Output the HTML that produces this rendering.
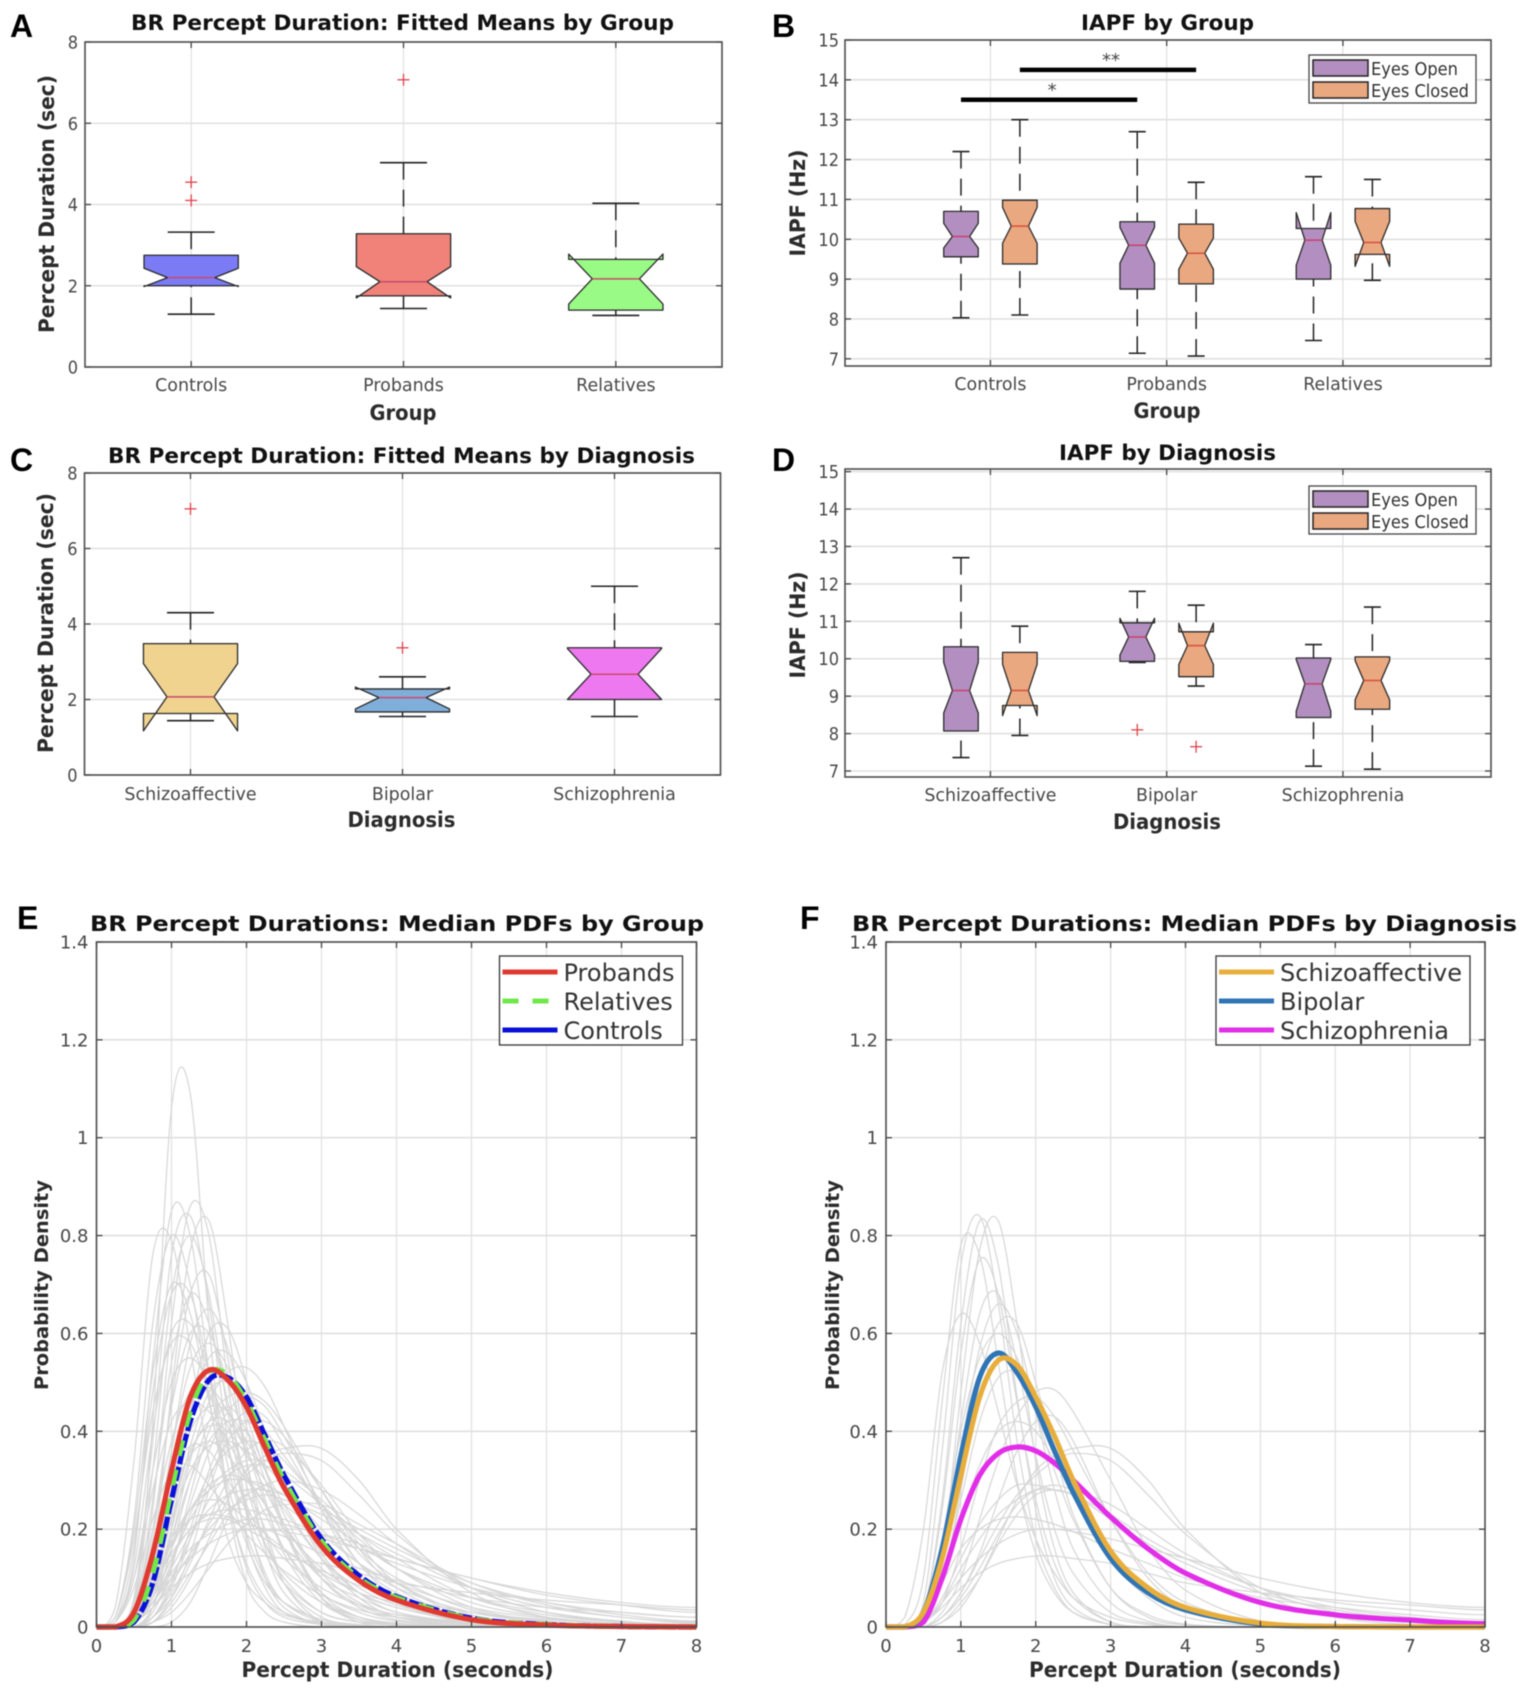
<!DOCTYPE html>
<html lang="en">
<head>
<meta charset="utf-8">
<title>BR Percept Duration and IAPF Figure</title>
<style>
html,body{margin:0;padding:0;background:#fff;}
#figure{display:block;width:1535px;height:1701px;filter:blur(.5px);font-family:"DejaVu Sans","Liberation Sans",sans-serif;}
.letter{font-family:"Liberation Sans",sans-serif;font-weight:700;font-size:32px;fill:#000;}
.title{font-weight:700;font-size:21px;fill:#111;}
.axlabel{font-weight:700;font-size:21px;fill:#2b2b2b;}
.axlabel2{font-weight:700;font-size:19px;fill:#2b2b2b;}
.leg{font-size:18px;fill:#333;}
.leg2{font-size:24px;fill:#333;}
</style>
</head>
<body>
<svg id="figure" xmlns="http://www.w3.org/2000/svg" viewBox="0 0 1535 1701">
  <rect x="0" y="0" width="1535" height="1701" fill="#fff"/>
  <defs>
    <clipPath id="clipE"><rect x="96.5" y="942" width="600" height="685"/></clipPath>
    <clipPath id="clipF"><rect x="886" y="942" width="599" height="685"/></clipPath>
  </defs>

  <g id="panelA"></g>
  <g id="panelB"></g>
  <g id="panelC"></g>
  <g id="panelD"></g>
  <g id="panelE"></g>
  <g id="panelF"></g>

  <text class="letter" x="10" y="37">A</text>
  <text class="letter" x="772" y="37">B</text>
  <text class="letter" x="10" y="471">C</text>
  <text class="letter" x="772" y="471">D</text>
  <text class="letter" x="17" y="929">E</text>
  <text class="letter" x="800" y="929">F</text>

  <text class="title" x="131" y="30" textLength="543" lengthAdjust="spacingAndGlyphs">BR Percept Duration: Fitted Means by Group</text>
  <text class="title" x="1081" y="30" textLength="173" lengthAdjust="spacingAndGlyphs">IAPF by Group</text>
  <text class="title" x="108" y="463" textLength="587" lengthAdjust="spacingAndGlyphs">BR Percept Duration: Fitted Means by Diagnosis</text>
  <text class="title" x="1059" y="460" textLength="217" lengthAdjust="spacingAndGlyphs">IAPF by Diagnosis</text>
  <text class="title" x="90" y="931" textLength="614" lengthAdjust="spacingAndGlyphs">BR Percept Durations: Median PDFs by Group</text>
  <text class="title" x="852" y="931" textLength="665" lengthAdjust="spacingAndGlyphs">BR Percept Durations: Median PDFs by Diagnosis</text>

  <text class="axlabel" x="403" y="420" text-anchor="middle" textLength="67" lengthAdjust="spacingAndGlyphs">Group</text>
  <text class="axlabel" x="1167" y="418" text-anchor="middle" textLength="67" lengthAdjust="spacingAndGlyphs">Group</text>
  <text class="axlabel" x="401.5" y="827" text-anchor="middle" textLength="108" lengthAdjust="spacingAndGlyphs">Diagnosis</text>
  <text class="axlabel" x="1167" y="829" text-anchor="middle" textLength="108" lengthAdjust="spacingAndGlyphs">Diagnosis</text>
  <text class="axlabel" x="397.5" y="1677" text-anchor="middle" textLength="312" lengthAdjust="spacingAndGlyphs">Percept Duration (seconds)</text>
  <text class="axlabel" x="1185" y="1677" text-anchor="middle" textLength="312" lengthAdjust="spacingAndGlyphs">Percept Duration (seconds)</text>

  <text class="axlabel" transform="translate(54 204) rotate(-90)" text-anchor="middle" textLength="258" lengthAdjust="spacingAndGlyphs">Percept Duration (sec)</text>
  <text class="axlabel" transform="translate(805 203) rotate(-90)" text-anchor="middle" textLength="107" lengthAdjust="spacingAndGlyphs">IAPF (Hz)</text>
  <text class="axlabel" transform="translate(53 623) rotate(-90)" text-anchor="middle" textLength="260" lengthAdjust="spacingAndGlyphs">Percept Duration (sec)</text>
  <text class="axlabel" transform="translate(805 625) rotate(-90)" text-anchor="middle" textLength="107" lengthAdjust="spacingAndGlyphs">IAPF (Hz)</text>
  <text class="axlabel2" transform="translate(48 1285) rotate(-90)" text-anchor="middle" textLength="210" lengthAdjust="spacingAndGlyphs">Probability Density</text>
  <text class="axlabel2" transform="translate(839 1285) rotate(-90)" text-anchor="middle" textLength="210" lengthAdjust="spacingAndGlyphs">Probability Density</text>

  <g>
    <rect x="1309" y="55" width="167" height="48" fill="#fff" stroke="#444" stroke-width="1.3"/>
    <rect x="1313" y="60" width="55" height="16" fill="#b28fc0" stroke="#222" stroke-width="1.5"/>
    <text class="leg" x="1371" y="75" textLength="87" lengthAdjust="spacingAndGlyphs">Eyes Open</text>
    <rect x="1313" y="82" width="55" height="16" fill="#eaa880" stroke="#222" stroke-width="1.5"/>
    <text class="leg" x="1371" y="97" textLength="98" lengthAdjust="spacingAndGlyphs">Eyes Closed</text>
  </g>
  <g>
    <rect x="1309" y="486" width="167" height="48" fill="#fff" stroke="#444" stroke-width="1.3"/>
    <rect x="1313" y="491" width="55" height="16" fill="#b28fc0" stroke="#222" stroke-width="1.5"/>
    <text class="leg" x="1371" y="506" textLength="87" lengthAdjust="spacingAndGlyphs">Eyes Open</text>
    <rect x="1313" y="513" width="55" height="16" fill="#eaa880" stroke="#222" stroke-width="1.5"/>
    <text class="leg" x="1371" y="528" textLength="98" lengthAdjust="spacingAndGlyphs">Eyes Closed</text>
  </g>
  <g transform="translate(-4.5 -5)">
    <rect x="504" y="961" width="183" height="89" fill="#fff" stroke="#333" stroke-width="1.3"/>
    <line x1="507" x2="562" y1="977" y2="977" stroke="#e03a30" stroke-width="5"/>
    <text class="leg2" x="568" y="986">Probands</text>
    <line x1="507" x2="562" y1="1006" y2="1006" stroke="#6fe84b" stroke-width="5" stroke-dasharray="16 14"/>
    <text class="leg2" x="568" y="1015">Relatives</text>
    <line x1="507" x2="562" y1="1035" y2="1035" stroke="#0a10d8" stroke-width="5"/>
    <text class="leg2" x="568" y="1044">Controls</text>
  </g>
  <g transform="translate(-7 -5)">
    <rect x="1223" y="961" width="254" height="89" fill="#fff" stroke="#333" stroke-width="1.3"/>
    <line x1="1226" x2="1281" y1="977" y2="977" stroke="#e8ae3c" stroke-width="5"/>
    <text class="leg2" x="1287" y="986" textLength="182" lengthAdjust="spacingAndGlyphs">Schizoaffective</text>
    <line x1="1226" x2="1281" y1="1006" y2="1006" stroke="#2f75b5" stroke-width="5"/>
    <text class="leg2" x="1287" y="1015">Bipolar</text>
    <line x1="1226" x2="1281" y1="1035" y2="1035" stroke="#e22ee8" stroke-width="5"/>
    <text class="leg2" x="1287" y="1044" textLength="169" lengthAdjust="spacingAndGlyphs">Schizophrenia</text>
  </g>
</svg>

<script>
/* ---- box-plot data; each row: whiskerLow, q1, notchLow, median, notchHigh, q3, whiskerHigh ---- */
const categoriesA = ['Controls','Probands','Relatives'];
const boxesA = [
  [1.30,2.00,1.98,2.20,2.43,2.75,3.32],
  [1.44,1.75,1.70,2.10,2.47,3.28,5.03],
  [1.27,1.40,1.55,2.17,2.78,2.65,4.03]
];
const outliersA = [[4.55,4.10],[7.07],[]];
const fillsA = ['#7b7bf6','#f0827a','#99fb86'];
const yTicksPercept = [0,2,4,6,8];

const categoriesB = ['Controls','Probands','Relatives'];
const eyesOpenB = [
  [8.03,9.56,9.78,10.07,10.40,10.70,12.20],
  [7.14,8.75,9.40,9.85,10.30,10.44,12.70],
  [7.46,9.00,9.35,9.98,10.67,10.27,11.57]
];
const eyesClosedB = [
  [8.10,9.38,9.90,10.33,10.80,10.98,13.00],
  [7.07,8.88,9.25,9.65,10.03,10.38,11.43],
  [8.97,9.62,9.32,9.92,10.45,10.77,11.50]
];
const outliersOpenB = [[],[],[]];
const outliersClosedB = [[],[],[]];
const sigLevels = [13.5,14.25];
const sigFromCategory = [1,1];
const sigToCategory = [2,2];
const sigSeriesOffset = [-1,1];
const sigLabels = ['*','**'];
const yTicksIapf = [7,8,9,10,11,12,13,14,15];

const categoriesC = ['Schizoaffective','Bipolar','Schizophrenia'];
const boxesC = [
  [1.44,1.63,1.17,2.07,2.95,3.48,4.30],
  [1.55,1.67,1.75,2.05,2.33,2.28,2.60],
  [1.55,2.00,2.00,2.67,3.35,3.37,5.00]
];
const outliersC = [[7.05],[3.37],[]];
const fillsC = ['#efd38f','#80aedb','#ee78f0'];

const categoriesD = ['Schizoaffective','Bipolar','Schizophrenia'];
const eyesOpenD = [
  [7.36,8.07,8.55,9.15,9.90,10.32,12.70],
  [9.90,9.93,10.10,10.58,11.08,10.96,11.80],
  [7.13,8.43,8.60,9.33,9.98,10.02,10.38]
];
const eyesClosedD = [
  [7.95,8.75,8.48,9.15,9.85,10.17,10.87],
  [9.27,9.52,9.85,10.35,10.95,10.72,11.43],
  [7.05,8.65,8.90,9.42,9.95,10.05,11.38]
];
const outliersOpenD = [[],[8.10],[]];
const outliersClosedD = [[],[7.65],[]];

/* ---- probability density data: y values sampled at pdfGrid ---- */
const pdfGrid = [0,.25,.5,.75,1,1.25,1.5,1.75,2,2.25,2.5,3,3.5,4,5,6,7,8];
const xTicksPdf = [0,1,2,3,4,5,6,7,8];
const yTicksPdf = [0,.2,.4,.6,.8,1,1.2,1.4];
const yTickLabelsPdf = ['0','0.2','0.4','0.6','0.8','1','1.2','1.4'];

const probandsPdf  = [0,0,.03,.15,.32,.47,.525,.505,.45,.365,.285,.165,.095,.055,.015,.004,.001,0];
const relativesPdf = [0,0,.015,.11,.28,.44,.52,.515,.46,.38,.30,.175,.10,.06,.017,.005,.001,0];
const controlsPdf  = [0,0,.01,.09,.26,.42,.505,.51,.47,.39,.31,.18,.105,.062,.018,.005,.001,0];
const schizoaffectivePdf = [0,0,.03,.14,.31,.47,.545,.535,.47,.39,.30,.155,.08,.04,.008,.001,0,0];
const bipolarPdf = [0,0,.03,.16,.35,.51,.56,.52,.45,.36,.275,.14,.07,.035,.006,.001,0,0];
const schizophreniaPdf = [0,0,.01,.10,.22,.31,.355,.368,.36,.335,.30,.225,.16,.11,.05,.025,.014,.007];

const subjectsE = [
  [0,0,.03,.42,1.06,1.09,.62,.26,.09,.03,.01],
  [0,.01,.14,.54,.85,.80,.52,.27,.12,.05,.02,.005],
  [0,0,.03,.24,.62,.86,.80,.50,.24,.10,.04,.005],
  [0,0,.06,.38,.76,.84,.66,.38,.18,.08,.03,.005],
  [0,.04,.34,.76,.79,.57,.34,.18,.09,.05,.025,.01,.003],
  [0,0,.01,.14,.48,.77,.83,.62,.34,.16,.07,.01],
  [0,.02,.22,.62,.80,.70,.47,.26,.13,.06,.03,.008,.002],
  [0,0,.05,.32,.68,.80,.68,.44,.23,.11,.05,.01],
  [0,.01,.16,.48,.68,.68,.52,.33,.19,.10,.05,.015,.004],
  [0,.02,.20,.52,.70,.64,.46,.29,.17,.09,.05,.015,.005],
  [0,0,.02,.18,.46,.68,.72,.55,.34,.19,.09,.02,.005],
  [0,0,.04,.26,.54,.68,.62,.46,.29,.17,.10,.03,.01,.003],
  [0,.01,.12,.40,.60,.62,.52,.37,.24,.15,.09,.03,.01,.003],
  [0,0,.01,.12,.36,.58,.65,.57,.41,.26,.15,.05,.015,.004],
  [0,0,.03,.20,.45,.60,.60,.50,.37,.25,.16,.06,.02,.006],
  [0,.02,.18,.44,.58,.58,.48,.36,.25,.17,.11,.05,.02,.008,.001],
  [0,0,0,.04,.20,.44,.60,.61,.50,.33,.20,.06,.015,.003],
  [0,0,.02,.14,.36,.53,.58,.53,.43,.32,.23,.10,.04,.015,.002],
  [0,.01,.10,.32,.50,.55,.50,.41,.31,.23,.16,.07,.03,.012,.002],
  [0,0,.01,.08,.26,.44,.55,.56,.50,.40,.30,.14,.06,.02,.003],
  [0,0,.01,.06,.18,.34,.46,.52,.53,.49,.41,.24,.11,.05,.006],
  [0,0,0,.04,.16,.30,.42,.47,.48,.46,.41,.28,.16,.08,.015,.002],
  [0,0,.04,.20,.38,.48,.49,.44,.36,.28,.21,.11,.05,.025,.005],
  [0,.01,.10,.28,.42,.46,.44,.38,.31,.25,.19,.10,.06,.03,.008,.002],
  [0,0,.02,.12,.28,.40,.45,.44,.38,.32,.25,.14,.07,.04,.01,.002],
  [0,0,.01,.06,.18,.30,.38,.42,.42,.40,.35,.25,.15,.09,.025,.006,.001],
  [0,0,.02,.10,.22,.32,.37,.38,.36,.33,.29,.20,.13,.08,.03,.01,.003],
  [0,0,0,.01,.04,.10,.18,.26,.32,.35,.365,.365,.30,.20,.07,.02,.005,.001],
  [0,0,0,.02,.07,.14,.21,.27,.31,.34,.355,.34,.27,.19,.08,.03,.01,.003],
  [0,0,.01,.06,.14,.22,.28,.32,.34,.34,.32,.26,.19,.14,.06,.025,.01,.004],
  [0,0,.02,.08,.17,.24,.28,.30,.30,.29,.27,.22,.17,.12,.06,.03,.012,.005],
  [0,0,.01,.05,.12,.19,.24,.27,.28,.28,.27,.24,.20,.16,.09,.05,.025,.012],
  [0,0,.02,.08,.15,.20,.23,.24,.24,.23,.22,.19,.16,.13,.08,.05,.03,.02],
  [0,0,.01,.05,.11,.16,.19,.21,.22,.22,.21,.19,.17,.14,.10,.065,.045,.03],
  [0,0,.01,.05,.10,.14,.17,.19,.20,.20,.195,.18,.16,.14,.10,.07,.05,.04],
  [0,0,.03,.10,.17,.22,.23,.225,.21,.20,.185,.15,.12,.095,.06,.04,.03,.02],
  [0,0,.01,.04,.08,.11,.13,.14,.145,.145,.14,.13,.11,.09,.07,.055,.045,.035],
  [0,0,0,0,.01,.05,.13,.22,.27,.20,.09,.01],
  [0,0,0,.01,.06,.15,.28,.38,.40,.32,.21,.06,.01],
  [0,0,0,.03,.12,.27,.40,.45,.40,.30,.20,.07,.02,.005],
  [0,0,.01,.07,.20,.35,.42,.42,.36,.28,.21,.10,.045,.02,.003],
  [0,0,.03,.15,.30,.37,.36,.30,.24,.19,.14,.08,.045,.025,.008,.002],
  [0,.01,.08,.22,.32,.33,.29,.24,.19,.15,.115,.065,.035,.02,.006,.002],
  [0,0,.02,.09,.18,.24,.26,.25,.22,.19,.16,.11,.07,.05,.02,.008,.003,.001],
  [0,0,0,.02,.08,.18,.30,.38,.42,.42,.39,.28,.17,.09,.02,.003],
  [0,0,.01,.06,.14,.20,.22,.22,.20,.18,.155,.115,.085,.06,.03,.015,.007,.003],
  [0,0,0,.01,.03,.07,.12,.17,.21,.24,.25,.25,.21,.17,.09,.045,.02,.01],
  [0,0,0,.01,.05,.11,.17,.23,.27,.29,.30,.28,.23,.17,.08,.03,.012,.005],
  [0,0,.01,.05,.13,.25,.36,.44,.47,.45,.39,.25,.13,.06,.01,.002],
  [0,0,.01,.08,.22,.37,.48,.50,.45,.37,.29,.15,.07,.03,.005],
  [0,0,0,.02,.09,.20,.32,.40,.44,.43,.37,.24,.13,.07,.015,.003],
  [0,0,.02,.10,.24,.36,.41,.40,.35,.30,.24,.14,.08,.045,.012,.003],
  [0,0,.01,.05,.13,.23,.31,.36,.38,.37,.34,.25,.16,.10,.035,.01,.003],
  [0,0,.01,.04,.10,.18,.26,.31,.33,.33,.31,.25,.18,.12,.05,.02,.007,.003],
  [0,0,.03,.14,.27,.35,.38,.35,.30,.25,.20,.12,.07,.04,.012,.004,.001],
  [0,0,0,.02,.06,.13,.22,.30,.36,.38,.37,.29,.19,.12,.04,.012,.003],
  [0,0,.01,.04,.09,.15,.20,.24,.26,.27,.26,.23,.19,.15,.08,.04,.02,.008],
  [0,0,.01,.07,.16,.24,.29,.31,.30,.28,.25,.19,.13,.09,.04,.018,.007,.003]
];
const subjectsF = [
  [0,0,.05,.36,.74,.84,.66,.38,.18,.08,.03,.005],
  [0,0,.03,.26,.62,.83,.74,.47,.24,.10,.04,.005],
  [0,0,.01,.14,.48,.77,.83,.62,.34,.16,.07,.01],
  [0,.005,.10,.46,.78,.76,.54,.30,.15,.07,.03,.005],
  [0,0,.03,.24,.56,.75,.68,.46,.26,.13,.06,.01],
  [0,0,.02,.16,.42,.64,.68,.54,.35,.20,.11,.03,.008],
  [0,0,.01,.12,.36,.57,.66,.60,.44,.28,.16,.05,.012],
  [0,.02,.20,.52,.64,.58,.44,.29,.18,.11,.06,.02,.005],
  [0,0,.01,.09,.28,.50,.62,.62,.50,.36,.23,.08,.02,.004],
  [0,0,.03,.18,.40,.55,.60,.55,.44,.32,.22,.08,.025,.006],
  [0,0,.02,.10,.26,.42,.51,.52,.47,.38,.29,.14,.06,.02,.002],
  [0,0,0,.03,.10,.22,.34,.43,.48,.485,.44,.30,.16,.075,.012],
  [0,0,.01,.05,.16,.30,.41,.46,.47,.43,.36,.22,.11,.05,.008],
  [0,0,0,.01,.04,.10,.18,.26,.32,.35,.365,.365,.30,.20,.07,.02,.005,.001],
  [0,0,0,.02,.07,.14,.21,.27,.31,.34,.355,.34,.27,.19,.08,.03,.01,.003],
  [0,0,.01,.06,.14,.21,.26,.29,.29,.28,.27,.22,.17,.13,.07,.035,.015,.006],
  [0,0,.02,.09,.16,.20,.22,.225,.22,.21,.195,.16,.13,.10,.06,.04,.025,.015],
  [0,0,.01,.04,.08,.11,.13,.14,.145,.145,.14,.13,.11,.09,.07,.055,.045,.035],
  [0,0,0,.02,.06,.12,.19,.25,.28,.29,.28,.25,.20,.15,.08,.04,.02,.01],
  [0,0,0,.01,.05,.10,.17,.23,.27,.28,.27,.22,.16,.11,.05,.02,.01,.004],
  [0,0,.01,.05,.12,.18,.23,.26,.28,.28,.27,.23,.18,.14,.08,.05,.035,.025],
  [0,0,0,.02,.07,.15,.26,.36,.42,.43,.38,.22,.10,.04,.005],
  [0,0,.01,.05,.10,.14,.17,.19,.20,.20,.195,.18,.16,.14,.10,.07,.05,.04],
  [0,0,.02,.10,.22,.33,.40,.42,.40,.34,.27,.15,.07,.03,.005]
];

const NS = 'http://www.w3.org/2000/svg';

function make(tag, attrs, name, parent, content) {
  const el = document.createElementNS(NS, tag);
  for (const k in attrs) el.setAttribute(k, attrs[k]);
  
  
  if (content !== undefined) el.textContent = content;
  parent.appendChild(el);
  return el;
}

function scales(ax) {
  return {
    x: v => ax.left + (v - ax.xMin) / (ax.xMax - ax.xMin) * (ax.right - ax.left),
    y: v => ax.bottom - (v - ax.yMin) / (ax.yMax - ax.yMin) * (ax.bottom - ax.top)
  };
}

function drawGrid(g, ax, s, xTicks, yTicks) {
  xTicks.forEach(t => {
    make('line', {x1:s.x(t), x2:s.x(t), y1:ax.top, y2:ax.bottom, stroke:'#e0e0e0', 'stroke-width':1.2}, 'x-gridline', g);
  });
  yTicks.forEach(t => {
    make('line', {x1:ax.left, x2:ax.right, y1:s.y(t), y2:s.y(t), stroke:'#e0e0e0', 'stroke-width':1.6}, 'y-gridline', g);
  });
}

function drawFrame(g, ax, s, xTicks, yTicks, xLabels, yLabels, o) {
  const tickLen = 6;
  const tickColor = '#444';
  xTicks.forEach((t, i) => {
    const x = s.x(t);
    make('line', {x1:x, x2:x, y1:ax.bottom, y2:ax.bottom - tickLen, stroke:tickColor, 'stroke-width':1.3}, 'x-tick', g);
    make('line', {x1:x, x2:x, y1:ax.top, y2:ax.top + tickLen, stroke:tickColor, 'stroke-width':1.3}, 'x-tick-top', g);
    make('text', {transform:`translate(${x} ${o.xLabelY}) scale(${o.xSqueeze} 1)`, 'text-anchor':'middle', 'font-size':o.fontSize, fill:'#484848'}, 'x-tick-label', g, xLabels[i]);
  });
  yTicks.forEach((t, i) => {
    const y = s.y(t);
    make('line', {x1:ax.left, x2:ax.left + tickLen, y1:y, y2:y, stroke:tickColor, 'stroke-width':1.3}, 'y-tick', g);
    make('line', {x1:ax.right, x2:ax.right - tickLen, y1:y, y2:y, stroke:tickColor, 'stroke-width':1.3}, 'y-tick-right', g);
    make('text', {transform:`translate(${ax.left - o.yLabelGap} ${y + 6.5}) scale(${o.ySqueeze} 1)`, 'text-anchor':'end', 'font-size':o.fontSize, fill:'#484848'}, 'y-tick-label', g, yLabels[i]);
  });
  make('rect', {x:ax.left, y:ax.top, width:ax.right - ax.left, height:ax.bottom - ax.top, fill:'none', stroke:'#4d4d4d', 'stroke-width':1.6}, 'axes-frame', g);
}

function drawBox(g, s, center, halfWidth, stats, outliers, fill, medianColor, capHalf) {
  const [wl, q1, nl, med, nh, q3, wh] = stats;
  const cx = s.x(center);
  const xl = s.x(center - halfWidth);
  const xr = s.x(center + halfWidth);
  const xnl = (xl + cx) / 2;
  const xnr = (xr + cx) / 2;
  const dash = '17 10';
  make('line', {x1:cx, x2:cx, y1:s.y(wh), y2:s.y(q3), stroke:'#222', 'stroke-width':1.5, 'stroke-dasharray':dash}, 'whisker-upper', g);
  make('line', {x1:cx, x2:cx, y1:s.y(wl), y2:s.y(q1), stroke:'#222', 'stroke-width':1.5, 'stroke-dasharray':dash}, 'whisker-lower', g);
  make('line', {x1:cx - capHalf, x2:cx + capHalf, y1:s.y(wh), y2:s.y(wh), stroke:'#222', 'stroke-width':1.6}, 'whisker-cap-upper', g);
  make('line', {x1:cx - capHalf, x2:cx + capHalf, y1:s.y(wl), y2:s.y(wl), stroke:'#222', 'stroke-width':1.6}, 'whisker-cap-lower', g);
  const d = `M${xl} ${s.y(q1)}L${xl} ${s.y(nl)}L${xnl} ${s.y(med)}L${xl} ${s.y(nh)}L${xl} ${s.y(q3)}L${xr} ${s.y(q3)}L${xr} ${s.y(nh)}L${xnr} ${s.y(med)}L${xr} ${s.y(nl)}L${xr} ${s.y(q1)}Z`;
  make('path', {d:d, fill:fill, stroke:'#2a2a2a', 'stroke-width':1.3, 'stroke-linejoin':'round'}, 'notched-box', g);
  make('line', {x1:xnl, x2:xnr, y1:s.y(med), y2:s.y(med), stroke:medianColor, 'stroke-width':1.5}, 'median-line', g);
  outliers.forEach(v => {
    const y = s.y(v);
    make('line', {x1:cx - 6, x2:cx + 6, y1:y, y2:y, stroke:'#e0424c', 'stroke-width':1.3}, 'outlier-h', g);
    make('line', {x1:cx, x2:cx, y1:y - 6, y2:y + 6, stroke:'#e0424c', 'stroke-width':1.3}, 'outlier-v', g);
  });
}

function singleBoxPanel(id, ax, categories, boxes, outliers, fills, xLabelY) {
  const g = document.getElementById(id);
  const s = scales(ax);
  const xTicks = categories.map((c, i) => i + 1);
  drawGrid(g, ax, s, xTicks, yTicksPercept);
  boxes.forEach((b, i) => {
    drawBox(g, s, i + 1, 0.222, b, outliers[i], fills[i], '#c84a6a', 23.5);
  });
  drawFrame(g, ax, s, xTicks, yTicksPercept, categories, yTicksPercept.map(String),
    {xLabelY: xLabelY, xSqueeze: 0.97, ySqueeze: 0.9, yLabelGap: 7, fontSize: 18});
}

function pairedBoxPanel(id, ax, categories, open, closed, outOpen, outClosed, xLabelY) {
  const g = document.getElementById(id);
  const s = scales(ax);
  const xTicks = categories.map((c, i) => i + 1);
  const offset = 0.167;
  drawGrid(g, ax, s, xTicks, yTicksIapf);
  categories.forEach((c, i) => {
    drawBox(g, s, i + 1 - offset, 0.098, open[i], outOpen[i], '#b28fc0', '#c8406a', 8.5);
    drawBox(g, s, i + 1 + offset, 0.098, closed[i], outClosed[i], '#eaa880', '#d8503a', 8.5);
  });
  drawFrame(g, ax, s, xTicks, yTicksIapf, categories, yTicksIapf.map(String),
    {xLabelY: xLabelY, xSqueeze: 0.97, ySqueeze: 0.9, yLabelGap: 6, fontSize: 18});
  return {g: g, s: s, offset: offset};
}

function curvePath(s, values) {
  const n = pdfGrid.length;
  const xs = pdfGrid;
  const ys = xs.map((x, i) => values[i] || 0);
  const m = xs.map((x, i) => {
    if (i === 0 || i === n - 1) return 0;
    return (ys[i + 1] - ys[i - 1]) / (xs[i + 1] - xs[i - 1]);
  });
  let d = `M${s.x(xs[0]).toFixed(2)} ${s.y(ys[0]).toFixed(2)}`;
  for (let i = 0; i < n - 1; i++) {
    const h = (xs[i + 1] - xs[i]) / 3;
    const c1x = s.x(xs[i] + h), c1y = s.y(Math.max(0, ys[i] + m[i] * h));
    const c2x = s.x(xs[i + 1] - h), c2y = s.y(Math.max(0, ys[i + 1] - m[i + 1] * h));
    d += `C${c1x.toFixed(2)} ${c1y.toFixed(2)} ${c2x.toFixed(2)} ${c2y.toFixed(2)} ${s.x(xs[i + 1]).toFixed(2)} ${s.y(ys[i + 1]).toFixed(2)}`;
  }
  return d;
}

function pdfPanel(id, ax, clipId, subjects, medians) {
  const g = document.getElementById(id);
  const s = scales(ax);
  drawGrid(g, ax, s, xTicksPdf, yTicksPdf);
  const clip = make('g', {'clip-path':`url(#${clipId})`}, 'subject-curves', g);
  subjects.forEach(curve => {
    make('path', {d:curvePath(s, curve), fill:'none', stroke:'#d6d6d6', 'stroke-width':1.2}, 'subject-pdf-curve', clip);
  });
  medians.forEach(m => {
    const attrs = {d:curvePath(s, m.values), fill:'none', stroke:m.color, 'stroke-width':5.2, 'stroke-linejoin':'round'};
    if (m.dash) attrs['stroke-dasharray'] = m.dash;
    make('path', attrs, m.name, g);
  });
  drawFrame(g, ax, s, xTicksPdf, yTicksPdf, xTicksPdf.map(String), yTickLabelsPdf,
    {xLabelY: ax.bottom + 25, xSqueeze: 1, ySqueeze: 1, yLabelGap: 8, fontSize: 18});
}

singleBoxPanel('panelA', {left:85, right:722, top:42, bottom:367, xMin:.5, xMax:3.5, yMin:0, yMax:8}, categoriesA, boxesA, outliersA, fillsA, 391);
const panelB = pairedBoxPanel('panelB', {left:845, right:1491, top:40, bottom:366, xMin:.175, xMax:3.84, yMin:6.82, yMax:15}, categoriesB, eyesOpenB, eyesClosedB, outliersOpenB, outliersClosedB, 390);
singleBoxPanel('panelC', {left:84.5, right:720.5, top:473, bottom:775, xMin:.5, xMax:3.5, yMin:0, yMax:8}, categoriesC, boxesC, outliersC, fillsC, 800);
pairedBoxPanel('panelD', {left:845, right:1491, top:469, bottom:777, xMin:.175, xMax:3.84, yMin:6.84, yMax:15.07}, categoriesD, eyesOpenD, eyesClosedD, outliersOpenD, outliersClosedD, 801);

sigLevels.forEach((level, i) => {
  const s = panelB.s;
  const x1 = s.x(sigFromCategory[i] + sigSeriesOffset[i] * panelB.offset);
  const x2 = s.x(sigToCategory[i] + sigSeriesOffset[i] * panelB.offset);
  make('line', {x1:x1, x2:x2, y1:s.y(level), y2:s.y(level), stroke:'#000', 'stroke-width':4.5}, 'significance-bar', panelB.g);
  make('text', {x:(x1 + x2) / 2 + 3, y:s.y(level) - 4, 'text-anchor':'middle', 'font-size':18, fill:'#444'}, 'significance-label', panelB.g, sigLabels[i]);
});

pdfPanel('panelE', {left:96.5, right:696.5, top:942, bottom:1627, xMin:0, xMax:8, yMin:0, yMax:1.4}, 'clipE', subjectsE, [
  {values:controlsPdf, color:'#0a10d8', name:'median-pdf-controls', dash:'14 3'},
  {values:relativesPdf, color:'#6fe84b', name:'median-pdf-relatives', dash:'16 14'},
  {values:probandsPdf, color:'#e03a30', name:'median-pdf-probands'}
]);
pdfPanel('panelF', {left:886, right:1485, top:942, bottom:1627, xMin:0, xMax:8, yMin:0, yMax:1.4}, 'clipF', subjectsF, [
  {values:schizophreniaPdf, color:'#e22ee8', name:'median-pdf-schizophrenia'},
  {values:bipolarPdf, color:'#2f75b5', name:'median-pdf-bipolar'},
  {values:schizoaffectivePdf, color:'#e8ae3c', name:'median-pdf-schizoaffective'}
]);
</script>
</body>
</html>
